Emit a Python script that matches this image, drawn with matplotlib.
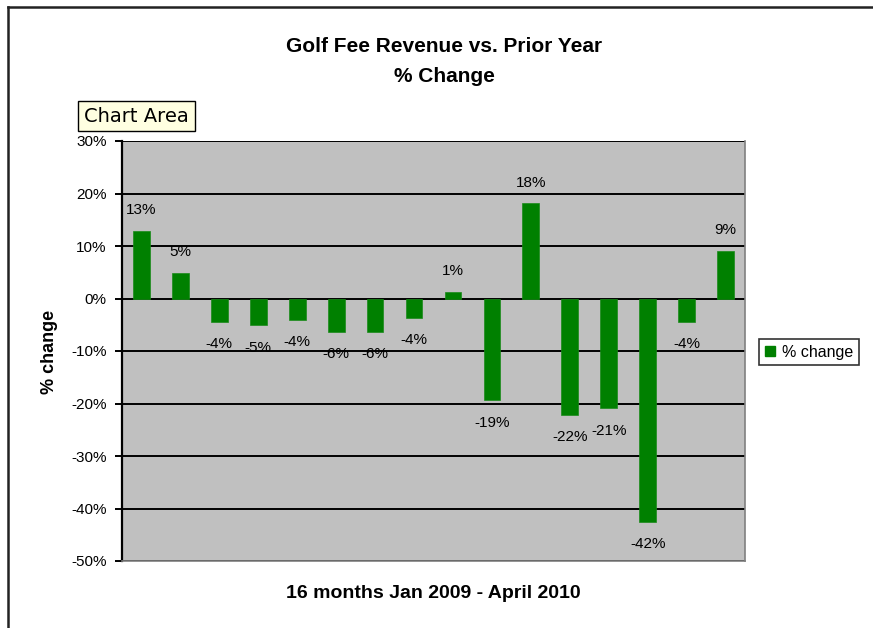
#!/usr/bin/env python3
"""Golf fee revenue vs prior year, % change per month (Jan 2009 - Apr 2010)."""

import matplotlib

matplotlib.use("Agg")
import matplotlib.pyplot as plt
from matplotlib.lines import Line2D
from matplotlib.patches import Patch

MONTHS = list(range(1, 17))
PCT_CHANGE = [12.8, 4.8, -4.4, -5.1, -4.1, -6.3, -6.3, -3.7,
              1.2, -19.4, 18.1, -22.2, -20.9, -42.5, -4.4, 9.1]
LABELS = ["13%", "5%", "-4%", "-5%", "-4%", "-6%", "-6%", "-4%",
          "1%", "-19%", "18%", "-22%", "-21%", "-42%", "-4%", "9%"]
Y_TICKS = [30, 20, 10, 0, -10, -20, -30, -40, -50]

BAR_GREEN = "#008000"
PLOT_GREY = "#C0C0C0"
FONT = "Liberation Sans"

W, H = 873, 628


def fx(px):
    return px / W


def fy(py):
    return 1 - py / H


fig = plt.figure(figsize=(W / 100, H / 100), dpi=100)
fig.patch.set_facecolor("white")

# frame of the chart area (only left and top edges are inside the crop)
fig.add_artist(Line2D([fx(8), fx(8)], [fy(7), 0], color="#222222", lw=1.8))
fig.add_artist(Line2D([fx(8), 1], [fy(7), fy(7)], color="#222222", lw=1.8))

ax = fig.add_axes([fx(122), fy(561), fx(745) - fx(122), fy(141) - fy(561)])
ax.set_facecolor(PLOT_GREY)
ax.bar(MONTHS, PCT_CHANGE, width=0.43, color=BAR_GREEN, edgecolor="#1a8a1a", linewidth=0.5, zorder=3)

ax.set_xlim(0.5, 16.5)
ax.set_ylim(-50, 30)
ax.set_yticks(Y_TICKS)
ax.set_yticklabels([f"{t}%" for t in Y_TICKS], fontsize=11, family=FONT)
ax.set_xticks([])
ax.yaxis.grid(True, color="black", linewidth=1.4, zorder=1)
ax.set_axisbelow(True)
ax.tick_params(axis="y", direction="out", length=5, width=1.4, color="black", pad=6)

ax.spines["left"].set_color("black")
ax.spines["left"].set_linewidth(1.6)
for side in ("right", "bottom", "top"):
    ax.spines[side].set_color("#808080")
    ax.spines[side].set_linewidth(1.2)
ax.spines["top"].set_visible(False)

for x, v, lab in zip(MONTHS, PCT_CHANGE, LABELS):
    if v >= 0:
        ax.annotate(lab, (x, v), xytext=(0, 10), textcoords="offset points",
                    ha="center", va="bottom", fontsize=11, family=FONT)
    else:
        ax.annotate(lab, (x, v), xytext=(0, -11), textcoords="offset points",
                    ha="center", va="top", fontsize=11, family=FONT)

fig.text(fx(444), fy(46), "Golf Fee Revenue vs. Prior Year", ha="center", va="center",
         fontsize=15, fontweight="bold", family=FONT)
fig.text(fx(444), fy(76), "% Change", ha="center", va="center",
         fontsize=15, fontweight="bold", family=FONT)

fig.text(fx(433), fy(593), "16 months Jan 2009 - April 2010", ha="center", va="center",
         fontsize=14, fontweight="bold", family=FONT)
fig.text(fx(49), fy(352), "% change", ha="center", va="center", rotation=90,
         fontsize=13, fontweight="bold", family=FONT)

# tooltip left over from the screenshot
fig.text(fx(84), fy(116), "Chart Area", ha="left", va="center", fontsize=14, family="DejaVu Sans",
         bbox=dict(boxstyle="square,pad=0.3", facecolor="#FFFFE1", edgecolor="black", linewidth=1.0))

leg = fig.legend(handles=[Patch(facecolor=BAR_GREEN, edgecolor=BAR_GREEN, label="% change")],
                 loc="center left", bbox_to_anchor=(fx(759), fy(352)), borderaxespad=0,
                 prop={"family": FONT, "size": 11.5}, frameon=True, fancybox=False,
                 handlelength=0.65, handleheight=0.65, handletextpad=0.45, borderpad=0.35)
leg.get_frame().set_edgecolor("black")
leg.get_frame().set_linewidth(1.2)

fig.savefig("out.png", dpi=100)
